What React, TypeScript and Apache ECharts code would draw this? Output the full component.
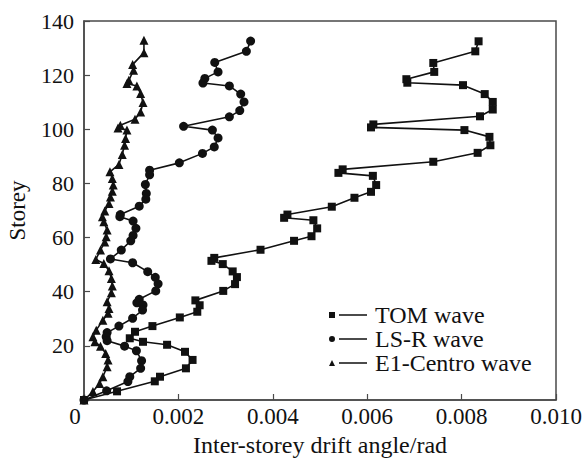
import React, { useEffect, useRef } from "react";
import * as echarts from "echarts";

const xTickLabels = ["0", "0.002", "0.004", "0.006", "0.008", "0.010"];
const seriesNames = ["TOM wave", "LS-R wave", "E1-Centro wave"];

const tomDrift = [0.00836, 0.00829, 0.0074, 0.00742, 0.00683, 0.00685, 0.00803, 0.00849, 0.00866, 0.00866, 0.00839, 0.00613, 0.00608, 0.00806, 0.00859, 0.00861, 0.00834, 0.0074, 0.00548, 0.00539, 0.00612, 0.00619, 0.00608, 0.00573, 0.00525, 0.00431, 0.00424, 0.00486, 0.00494, 0.00482, 0.00445, 0.00374, 0.00276, 0.0027, 0.00294, 0.00315, 0.00324, 0.0032, 0.00295, 0.00236, 0.00245, 0.0024, 0.00203, 0.00145, 0.00108, 0.00097, 0.00125, 0.00176, 0.00214, 0.0023, 0.00216, 0.00161, 0.0015, 0.0007, 0];
const tomStorey = [132.5, 128.8, 124.5, 121.2, 118.5, 117.2, 116.3, 113, 110.1, 107.3, 104.8, 101.8, 100.7, 99.7, 97.2, 94.1, 91.3, 88, 85.2, 83.9, 82.8, 79.4, 76.9, 74.7, 71.4, 68.5, 67.3, 66.4, 63.4, 60.5, 58.8, 55.5, 52.5, 51.4, 50.2, 47.5, 45.4, 42.8, 40.3, 36.8, 35, 32.6, 30.5, 27.3, 25.2, 22.8, 21.5, 20.4, 17.8, 14.8, 11.7, 8.6, 6.9, 3.2, 0];

const lsrDrift = [0.00353, 0.00344, 0.00277, 0.00284, 0.00256, 0.00252, 0.00308, 0.00332, 0.00339, 0.0033, 0.00308, 0.00211, 0.00272, 0.00284, 0.00276, 0.00251, 0.00202, 0.00139, 0.00139, 0.0013, 0.00132, 0.00131, 0.00117, 0.00077, 0.00076, 0.00104, 0.0011, 0.00104, 0.00099, 0.00079, 0.00056, 0.00103, 0.00135, 0.00151, 0.00157, 0.00152, 0.00117, 0.00112, 0.00125, 0.00124, 0.00103, 0.00074, 0.00049, 0.00047, 0.00049, 0.00086, 0.00111, 0.00122, 0.0012, 0.00097, 0.00093, 0.00048, 0];
const lsrStorey = [132.6, 128.8, 124.7, 121.2, 118.8, 117.1, 116, 113, 110.1, 106.9, 104.6, 101.1, 99.7, 96.8, 93.5, 91.1, 87.6, 84.9, 83.2, 79.6, 76.3, 74.2, 71.6, 68.5, 67.7, 66.1, 63.4, 60.8, 58.8, 55.4, 52.1, 50.7, 47.4, 45.3, 42.9, 40.3, 37.2, 35.9, 35.1, 33.2, 30.2, 27.3, 24.9, 23.4, 21.9, 19.9, 18.2, 14.5, 11.7, 8.6, 6.8, 3.4, 0];

const elcDrift = [0.00127, 0.00127, 0.00103, 0.00105, 0.00095, 0.00091, 0.00112, 0.0012, 0.00125, 0.0012, 0.00108, 0.00077, 0.00072, 0.00091, 0.00088, 0.00086, 0.00081, 0.00074, 0.00055, 0.0006, 0.00062, 0.0006, 0.00056, 0.00053, 0.00044, 0.00039, 0.00042, 0.00049, 0.00047, 0.00044, 0.00035, 0.00025, 0.00042, 0.00053, 0.00058, 0.0006, 0.00058, 0.00049, 0.00053, 0.00051, 0.0004, 0.00026, 0.00019, 0.00023, 0.00035, 0.00046, 0.00051, 0.00049, 0.0004, 0.00033, 0.00019, 0];
const elcStorey = [132.9, 128.3, 123.9, 121.8, 118.1, 116.9, 116, 113.2, 109.9, 106.4, 103.7, 101.5, 100.5, 99.7, 96.6, 94.1, 90.7, 87, 84.3, 81.8, 79.4, 77.1, 75, 72.6, 69.8, 67.7, 65.8, 62.8, 60.3, 58.4, 55.4, 51.9, 50.4, 47.7, 44.9, 42.1, 39.6, 36.3, 33.8, 32, 29.5, 25.8, 23.4, 21.5, 19.9, 17.2, 14.8, 12.3, 8.6, 6.1, 3.1, 0];

const zip = (xs: number[], ys: number[]) => xs.map((x, i) => [x, ys[i]]);

const FONT = "'Liberation Serif', 'Times New Roman', serif";
const INK = "#111";
const AXIS = "#4a4a4a";

const legendIcons = [
  "path://M0,0 h6 v6 h-6 Z M10,2.2 h28 v1.6 h-28 Z",
  "path://M3,0 A3,3 0 1,1 3,6 A3,3 0 1,1 3,0 Z M10,2.2 h28 v1.6 h-28 Z",
  "path://M3,0 L6,6 L0,6 Z M10,2.2 h28 v1.6 h-28 Z",
];

export default function App() {
  const ref = useRef<HTMLDivElement>(null);
  useEffect(() => {
    if (!ref.current) return;
    const chart = echarts.init(ref.current, undefined, { renderer: "svg" });
    const symbols = ["rect", "circle", "triangle"];
    const sizes = [8, 9, 9];
    const datas = [zip(tomDrift, tomStorey), zip(lsrDrift, lsrStorey), zip(elcDrift, elcStorey)];
    chart.setOption({
      animation: false,
      textStyle: { fontFamily: FONT },
      grid: {
        left: 84,
        right: 28,
        top: 21,
        bottom: 59,
        containLabel: false,
        outerBoundsMode: "none",
        show: true,
        borderColor: AXIS,
        borderWidth: 1.5,
      },
      legend: {
        orient: "vertical",
        left: 324,
        top: 298,
        itemWidth: 38,
        itemHeight: 6,
        itemGap: 0,
        data: seriesNames.map((n, i) => ({ name: n, icon: legendIcons[i] })),
        itemStyle: { color: INK, borderWidth: 0 },
        textStyle: { fontFamily: FONT, fontSize: 24, color: INK, padding: [0, 0, 0, 3] },
      },
      xAxis: {
        type: "value",
        min: 0,
        max: 0.01,
        interval: 0.002,
        name: "Inter-storey drift angle/rad",
        nameLocation: "middle",
        nameGap: 32,
        nameTextStyle: { fontFamily: FONT, fontSize: 24, color: INK, lineHeight: 24 },
        axisLine: { lineStyle: { color: AXIS, width: 1.5 } },
        axisTick: { inside: true, length: 6, lineStyle: { color: AXIS, width: 1.2 } },
        axisLabel: {
          fontFamily: FONT,
          fontSize: 23,
          color: INK,
          margin: 5,
          formatter: (v: number) => {
            const i = Math.round(v / 0.002);
            return i === 0 ? "{z|" + xTickLabels[0] + "}" : xTickLabels[i];
          },
          rich: {
            z: { fontFamily: FONT, fontSize: 23, color: INK, padding: [0, 18, 6, 0] },
          },
        },
        splitLine: { show: false },
      },
      yAxis: {
        type: "value",
        min: 0,
        max: 140,
        interval: 20,
        name: "Storey",
        nameLocation: "middle",
        nameGap: 55,
        nameTextStyle: { fontFamily: FONT, fontSize: 23, color: INK },
        axisLine: { lineStyle: { color: AXIS, width: 1.5 } },
        axisTick: { inside: true, length: 6, lineStyle: { color: AXIS, width: 1.2 } },
        axisLabel: {
          fontFamily: FONT,
          fontSize: 22,
          color: INK,
          margin: 10,
          formatter: (v: number) => (v === 0 ? "" : String(v)),
        },
        splitLine: { show: false },
      },
      series: seriesNames.map((n, i) => ({
        name: n,
        type: "line",
        data: datas[i],
        symbol: symbols[i],
        symbolSize: sizes[i],
        showAllSymbol: true,
        lineStyle: { color: INK, width: 1.6 },
        itemStyle: { color: INK, borderWidth: 0 },
        emphasis: { disabled: true },
      })),
    });
    return () => chart.dispose();
  }, []);
  return (
    <div
      ref={ref}
      style={{ position: "fixed", left: 0, top: 0, width: 584, height: 459, background: "#fff" }}
    />
  );
}
